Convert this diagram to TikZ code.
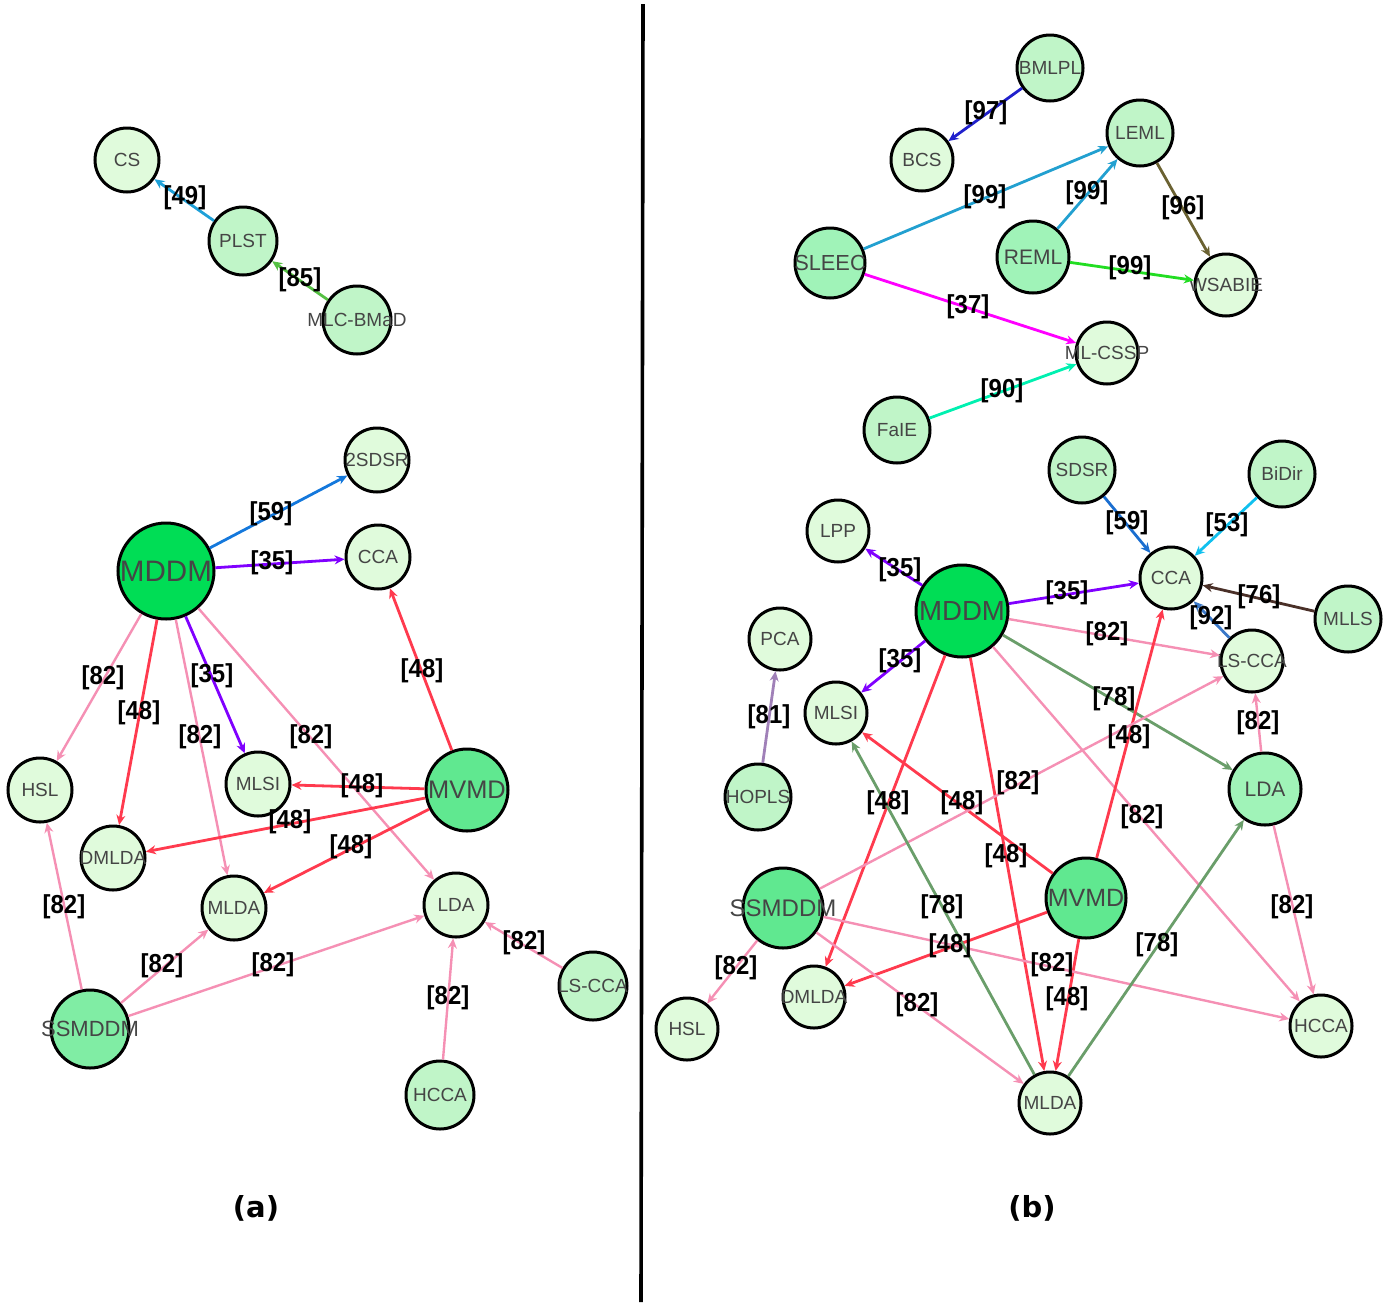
\documentclass[tikz,border=0pt]{standalone}
\usepackage{fontspec}
\setmainfont{Liberation Sans}
\newfontfamily\djv{DejaVu Sans}
\newfontfamily\labfont[FakeStretch=0.92]{Liberation Sans}
\usetikzlibrary{arrows.meta}
\definecolor{tg}{HTML}{454545}
\definecolor{fL}{HTML}{E0FBDC}
\definecolor{fM}{HTML}{C0F5C8}
\definecolor{fS}{HTML}{A0F3B8}
\definecolor{fD}{HTML}{60E890}
\definecolor{fDa}{HTML}{80EDA4}
\definecolor{fX}{HTML}{00DD55}
\definecolor{rd}{HTML}{FF3A4E}
\definecolor{pk}{HTML}{F590B4}
\definecolor{pu}{HTML}{8000FF}
\definecolor{gr}{HTML}{6A9E6A}
\definecolor{cFortyNine}{HTML}{1EA0D8}
\definecolor{cEightyFive}{HTML}{55C043}
\definecolor{cFiftyNine}{HTML}{1478DC}
\definecolor{cNinetySeven}{HTML}{2020CC}
\definecolor{cNinetyNine}{HTML}{22A0D0}
\definecolor{cNinetySix}{HTML}{6B6232}
\definecolor{cNinetyNineG}{HTML}{22DD22}
\definecolor{cThirtySeven}{HTML}{FF00FF}
\definecolor{cNinety}{HTML}{00F0B0}
\definecolor{cFiftyNineB}{HTML}{1A6ED0}
\definecolor{cFiftyThree}{HTML}{10C0EE}
\definecolor{cSeventySix}{HTML}{4A3028}
\definecolor{cNinetyTwo}{HTML}{3A78C8}
\definecolor{cEightyOne}{HTML}{A080B8}
\begin{document}
\begin{tikzpicture}[x=0.5pt,y=-0.5pt,
  nd/.style={circle,draw=black,line width=1.5pt,inner sep=0pt,outer sep=0.75pt},
  nl/.style={font=\fontsize{9.5}{11}\selectfont,text=tg,inner sep=0pt},
  e/.style={line width=1.4pt,-{Stealth[length=5pt,width=4.5pt]}},
  ep/.style={line width=1.2pt,pk,-{Stealth[length=5pt,width=4.5pt]}},
  lab/.style={font=\labfont\bfseries\fontsize{13}{15}\selectfont,inner sep=0pt,text=black},
  ttl/.style={font=\djv\bfseries\fontsize{14.5}{16}\selectfont,inner sep=0pt}]
\useasboundingbox (0,0) rectangle (1398,1302);
\draw[line width=1.8pt] (643,4) -- (641,1302);

% ---------- (a) nodes ----------
\node[nd,fill=fL,minimum size=32pt,label={[nl]center:CS}] (aCS) at (127,160) {};
\node[nd,fill=fM,minimum size=34pt,label={[nl]center:PLST}] (aPLST) at (243,241) {};
\node[nd,fill=fM,minimum size=34pt,label={[nl]center:MLC-BMaD}] (aMLC) at (357,320) {};
\node[nd,fill=fL,minimum size=32pt,label={[nl]center:2SDSR}] (a2S) at (377,460) {};
\node[nd,fill=fX,minimum size=48pt,label={[nl,font=\fontsize{14.8}{16}\selectfont]center:MDDM}] (aMDDM) at (166,571) {};
\node[nd,fill=fL,minimum size=32pt,label={[nl]center:CCA}] (aCCA) at (378,557) {};
\node[nd,fill=fL,minimum size=32pt,label={[nl]center:HSL}] (aHSL) at (40,790) {};
\node[nd,fill=fL,minimum size=32pt,label={[nl]center:MLSI}] (aMLSI) at (258,784) {};
\node[nd,fill=fD,minimum size=41pt,label={[nl,font=\fontsize{12.7}{14}\selectfont]center:MVMD}] (aMVMD) at (467,790) {};
\node[nd,fill=fL,minimum size=32pt,label={[nl]center:DMLDA}] (aDML) at (113,858) {};
\node[nd,fill=fL,minimum size=32pt,label={[nl]center:MLDA}] (aMLDA) at (234,908) {};
\node[nd,fill=fL,minimum size=32pt,label={[nl]center:LDA}] (aLDA) at (456,905) {};
\node[nd,fill=fDa,minimum size=39pt,label={[nl,font=\fontsize{11}{13}\selectfont]center:SSMDDM}] (aSS) at (90,1029) {};
\node[nd,fill=fM,minimum size=34pt,label={[nl]center:LS-CCA}] (aLS) at (593,986) {};
\node[nd,fill=fM,minimum size=34pt,label={[nl]center:HCCA}] (aHCCA) at (440,1095) {};

% ---------- (b) nodes ----------
\node[nd,fill=fM,minimum size=33pt,label={[nl]center:BMLPL}] (bBML) at (1050,68) {};
\node[nd,fill=fL,minimum size=31pt,label={[nl]center:BCS}] (bBCS) at (922,160) {};
\node[nd,fill=fM,minimum size=33pt,label={[nl]center:LEML}] (bLEML) at (1140,133) {};
\node[nd,fill=fS,minimum size=35pt,label={[nl,font=\fontsize{10.9}{13}\selectfont]center:SLEEC}] (bSLE) at (830,263) {};
\node[nd,fill=fS,minimum size=36pt,label={[nl,font=\fontsize{10.5}{12}\selectfont]center:REML}] (bREML) at (1033,257) {};
\node[nd,fill=fL,minimum size=31pt,label={[nl]center:WSABIE}] (bWSA) at (1226,285) {};
\node[nd,fill=fL,minimum size=31pt,label={[nl]center:ML-CSSP}] (bMLC) at (1107,353) {};
\node[nd,fill=fM,minimum size=33pt,label={[nl]center:FaIE}] (bFaIE) at (897,430) {};
\node[nd,fill=fM,minimum size=33pt,label={[nl]center:SDSR}] (bSDSR) at (1082,470) {};
\node[nd,fill=fM,minimum size=33pt,label={[nl]center:BiDir}] (bBiD) at (1282,474) {};
\node[nd,fill=fL,minimum size=31pt,label={[nl]center:LPP}] (bLPP) at (838,531) {};
\node[nd,fill=fL,minimum size=31pt,label={[nl]center:CCA}] (bCCA) at (1171,578) {};
\node[nd,fill=fM,minimum size=33pt,label={[nl]center:MLLS}] (bMLLS) at (1348,619) {};
\node[nd,fill=fX,minimum size=46pt,label={[nl,font=\fontsize{13.8}{15}\selectfont]center:MDDM}] (bMDDM) at (962,611) {};
\node[nd,fill=fL,minimum size=31pt,label={[nl]center:PCA}] (bPCA) at (780,639) {};
\node[nd,fill=fL,minimum size=31pt,label={[nl]center:LS-CCA}] (bLS) at (1252,661) {};
\node[nd,fill=fL,minimum size=31pt,label={[nl]center:MLSI}] (bMLSI) at (836,713) {};
\node[nd,fill=fM,minimum size=33pt,label={[nl]center:HOPLS}] (bHOP) at (758,797) {};
\node[nd,fill=fS,minimum size=36pt,label={[nl,font=\fontsize{10.5}{12}\selectfont]center:LDA}] (bLDA) at (1265,789) {};
\node[nd,fill=fD,minimum size=40pt,label={[nl,font=\fontsize{12}{14}\selectfont]center:SSMDDM}] (bSS) at (783,908) {};
\node[nd,fill=fD,minimum size=40pt,label={[nl,font=\fontsize{12.5}{14}\selectfont]center:MVMD}] (bMVMD) at (1086,898) {};
\node[nd,fill=fL,minimum size=31pt,label={[nl]center:HSL}] (bHSL) at (687,1029) {};
\node[nd,fill=fL,minimum size=31pt,label={[nl]center:DMLDA}] (bDML) at (814,997) {};
\node[nd,fill=fL,minimum size=31pt,label={[nl]center:HCCA}] (bHCCA) at (1321,1026) {};
\node[nd,fill=fL,minimum size=31pt,label={[nl]center:MLDA}] (bMLDA) at (1050,1103) {};

% ---------- (a) edges ----------
\draw[e,cFortyNine] (aPLST) -- (aCS);
\draw[e,cEightyFive] (aMLC) -- (aPLST);
\draw[e,cFiftyNine] (aMDDM) -- (a2S);
\draw[e,pu] (aMDDM) -- (aCCA);
\draw[ep] (aMDDM) -- (aHSL);
\draw[e,rd] (aMDDM) -- (aDML);
\draw[ep] (aMDDM) -- (aMLDA);
\draw[e,pu] (aMDDM) -- (aMLSI);
\draw[ep] (aMDDM) -- (aLDA);
\draw[e,rd] (aMVMD) -- (aCCA);
\draw[e,rd] (aMVMD) -- (aMLSI);
\draw[e,rd] (aMVMD) -- (aDML);
\draw[e,rd] (aMVMD) -- (aMLDA);
\draw[ep] (aSS) -- (aHSL);
\draw[ep] (aSS) -- (aMLDA);
\draw[ep] (aSS) -- (aLDA);
\draw[ep] (aLS) -- (aLDA);
\draw[ep] (aHCCA) -- (aLDA);

% ---------- (b) edges ----------
\draw[e,cNinetySeven] (bBML) -- (bBCS);
\draw[e,cNinetyNine] (bSLE) -- (bLEML);
\draw[e,cNinetyNine] (bREML) -- (bLEML);
\draw[e,cNinetySix] (bLEML) -- (bWSA);
\draw[e,cNinetyNineG] (bREML) -- (bWSA);
\draw[e,cThirtySeven] (bSLE) -- (bMLC);
\draw[e,cNinety] (bFaIE) -- (bMLC);
\draw[e,cFiftyNineB] (bSDSR) -- (bCCA);
\draw[e,cFiftyThree] (bBiD) -- (bCCA);
\draw[e,cSeventySix] (bMLLS) -- (bCCA);
\draw[e,cNinetyTwo] (bLS) -- (bCCA);
\draw[e,pu] (bMDDM) -- (bLPP);
\draw[e,pu] (bMDDM) -- (bCCA);
\draw[e,pu] (bMDDM) -- (bMLSI);
\draw[ep] (bMDDM) -- (bLS);
\draw[e,gr] (bMDDM) -- (bLDA);
\draw[e,rd] (bMDDM) -- (bDML);
\draw[e,rd] (bMDDM) -- (bMLDA);
\draw[ep] (bMDDM) -- (bHCCA);
\draw[e,cEightyOne] (bHOP) -- (bPCA);
\draw[e,rd] (bMVMD) -- (bMLSI);
\draw[e,rd] (bMVMD) -- (bCCA);
\draw[e,rd] (bMVMD) -- (bDML);
\draw[e,rd] (bMVMD) -- (bMLDA);
\draw[ep] (bSS) -- (bLS);
\draw[ep] (bSS) -- (bHSL);
\draw[ep] (bSS) -- (bMLDA);
\draw[ep] (bSS) -- (bHCCA);
\draw[e,gr] (bMLDA) -- (bMLSI);
\draw[e,gr] (bMLDA) -- (bLDA);
\draw[ep] (bLDA) -- (bLS);
\draw[ep] (bLDA) -- (bHCCA);

% ---------- (a) edge labels ----------
\node[lab] (la1) at (185,198) {[49]};
\node[lab] (la2) at (300,280) {[85]};
\node[lab] (la3) at (271,514) {[59]};
\node[lab] (la4) at (272,563) {[35]};
\node[lab] (la5) at (103,678) {[82]};
\node[lab] (la6) at (139,713) {[48]};
\node[lab] (la7) at (200,737) {[82]};
\node[lab] (la8) at (212,676) {[35]};
\node[lab] (la9) at (311,737) {[82]};
\node[lab] (la10) at (422,671) {[48]};
\node[lab] (la11) at (362,786) {[48]};
\node[lab] (la12) at (290,822) {[48]};
\node[lab] (la13) at (351,847) {[48]};
\node[lab] (la14) at (64,907) {[82]};
\node[lab] (la15) at (162,966) {[82]};
\node[lab] (la16) at (273,965) {[82]};
\node[lab] (la17) at (524,943) {[82]};
\node[lab] (la18) at (448,998) {[82]};

% ---------- (b) edge labels ----------
\node[lab] (lb1) at (986,113) {[97]};
\node[lab] (lb2) at (985,197) {[99]};
\node[lab] (lb3) at (1087,193) {[99]};
\node[lab] (lb4) at (1183,208) {[96]};
\node[lab] (lb5) at (1130,268) {[99]};
\node[lab] (lb6) at (968,307) {[37]};
\node[lab] (lb7) at (1002,391) {[90]};
\node[lab] (lb8) at (1127,523) {[59]};
\node[lab] (lb9) at (1227,525) {[53]};
\node[lab] (lb10) at (1259,597) {[76]};
\node[lab] (lb11) at (1211,618) {[92]};
\node[lab] (lb12) at (900,570) {[35]};
\node[lab] (lb13) at (1067,593) {[35]};
\node[lab] (lb14) at (1107,634) {[82]};
\node[lab] (lb15) at (900,661) {[35]};
\node[lab] (lb16) at (769,717) {[81]};
\node[lab] (lb17) at (1114,699) {[78]};
\node[lab] (lb18) at (1129,737) {[48]};
\node[lab] (lb19) at (1258,723) {[82]};
\node[lab] (lb20) at (888,803) {[48]};
\node[lab] (lb21) at (962,803) {[48]};
\node[lab] (lb22) at (1018,783) {[82]};
\node[lab] (lb23) at (1142,817) {[82]};
\node[lab] (lb24) at (1006,856) {[48]};
\node[lab] (lb25) at (942,907) {[78]};
\node[lab] (lb26) at (1292,907) {[82]};
\node[lab] (lb27) at (950,946) {[48]};
\node[lab] (lb28) at (1157,945) {[78]};
\node[lab] (lb29) at (736,968) {[82]};
\node[lab] (lb30) at (1052,965) {[82]};
\node[lab] (lb31) at (1067,999) {[48]};
\node[lab] (lb32) at (917,1005) {[82]};

% ---------- titles ----------
\node[ttl] (ta) at (256,1208) {(a)};
\node[ttl] (tb) at (1032,1208) {(b)};
\end{tikzpicture}
\end{document}
